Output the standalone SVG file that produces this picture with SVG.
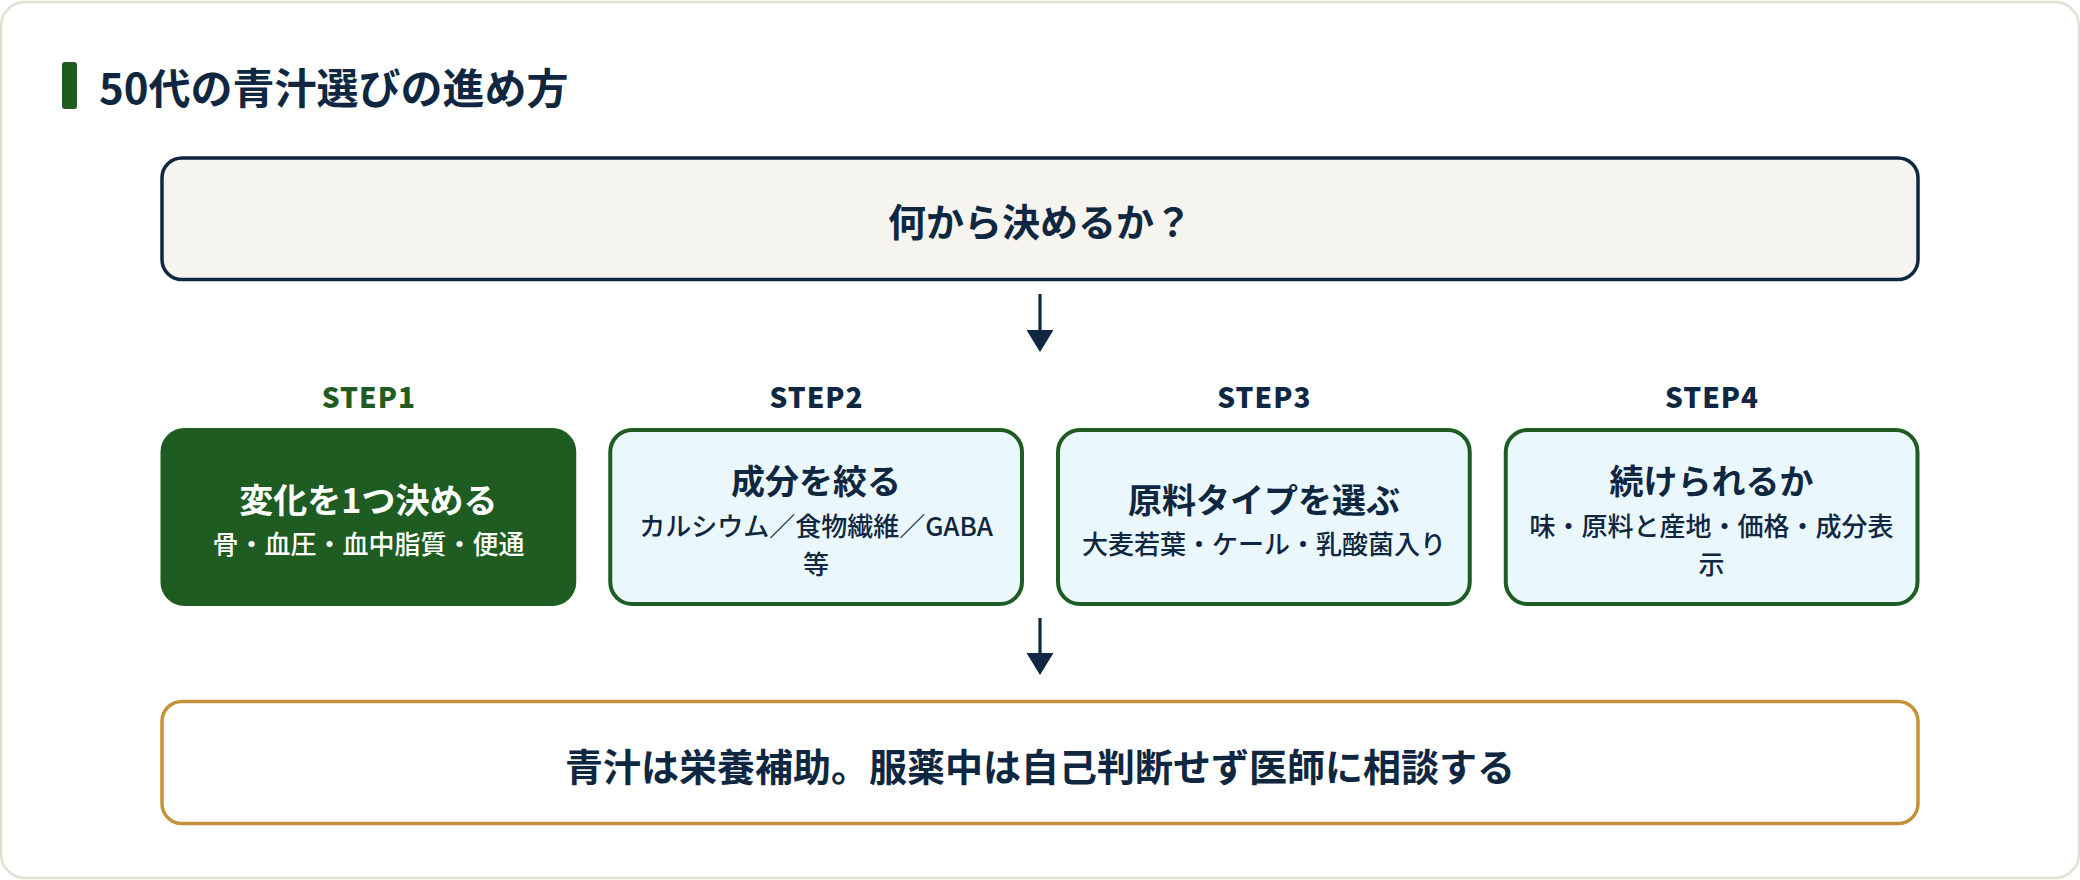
<svg xmlns="http://www.w3.org/2000/svg" width="2080" height="880" viewBox="0 0 2080 880">
<defs>
<style>
text{font-family:"Noto Sans CJK JP","Noto Sans",sans-serif;font-weight:700;fill:#0f2740}
.step{font-size:28px;font-weight:900;letter-spacing:1px;text-anchor:middle}
.t{font-size:34px;text-anchor:middle}
.s{font-size:26px;font-weight:500;text-anchor:middle}
.box{fill:#eaf8fd;stroke:#1e5c22;stroke-width:4}
.conn line{stroke:#0f2740;stroke-width:3.2}
.conn polygon{fill:#0f2740}
</style>
</defs>
<rect x="1" y="2" width="2078" height="876" rx="24" fill="#ffffff" stroke="#e3e0d3" stroke-width="2.5"/>
<g id="title">
<rect x="62" y="62" width="15" height="47" rx="3" fill="#1e5c22"/>
<text x="99" y="104" font-size="42">50代の青汁選びの進め方</text>
</g>
<g id="start">
<rect x="162" y="158" width="1756" height="121.5" rx="20" fill="#f5f4ef" stroke="#0f2740" stroke-width="3.5"/>
<text x="1040" y="236" font-size="38" text-anchor="middle">何から決めるか？</text>
</g>
<g id="step1">
<text class="step" x="368.9" y="408" style="fill:#1e5c22">STEP1</text>
<rect x="162.5" y="430" width="411.75" height="174" rx="22" fill="#1e5c22" stroke="#1e5c22" stroke-width="4"/>
<text class="t" x="368.4" y="513" style="fill:#ffffff">変化を1つ決める</text>
<text class="s" x="368.4" y="554" style="fill:#ffffff">骨・血圧・血中脂質・便通</text>
</g>
<g id="step2">
<text class="step" x="816.6" y="408">STEP2</text>
<rect class="box" x="610.25" y="430" width="411.75" height="174" rx="22"/>
<text class="t" x="816.1" y="494">成分を絞る</text>
<text class="s" x="816.1" y="536">カルシウム／食物繊維／GABA</text>
<text class="s" x="816.1" y="574">等</text>
</g>
<g id="step3">
<text class="step" x="1264.4" y="408">STEP3</text>
<rect class="box" x="1058" y="430" width="411.75" height="174" rx="22"/>
<text class="t" x="1263.9" y="513">原料タイプを選ぶ</text>
<text class="s" x="1263.9" y="554">大麦若葉・ケール・乳酸菌入り</text>
</g>
<g id="step4">
<text class="step" x="1712.1" y="408">STEP4</text>
<rect class="box" x="1505.75" y="430" width="411.75" height="174" rx="22"/>
<text class="t" x="1711.6" y="494">続けられるか</text>
<text class="s" x="1711.6" y="536">味・原料と産地・価格・成分表</text>
<text class="s" x="1711.6" y="574">示</text>
</g>
<g id="note">
<rect x="162" y="701.5" width="1756" height="122" rx="20" fill="#ffffff" stroke="#c4923a" stroke-width="3.5"/>
<text x="1040" y="781" font-size="38" text-anchor="middle">青汁は栄養補助。服薬中は自己判断せず医師に相談する</text>
</g>
<g id="connectors" class="conn">
<line x1="1040" y1="294" x2="1040" y2="331"/>
<polygon points="1026.5,330 1053.5,330 1040,352"/>
<line x1="1040" y1="618" x2="1040" y2="654"/>
<polygon points="1026.5,653 1053.5,653 1040,675"/>
</g>
</svg>
